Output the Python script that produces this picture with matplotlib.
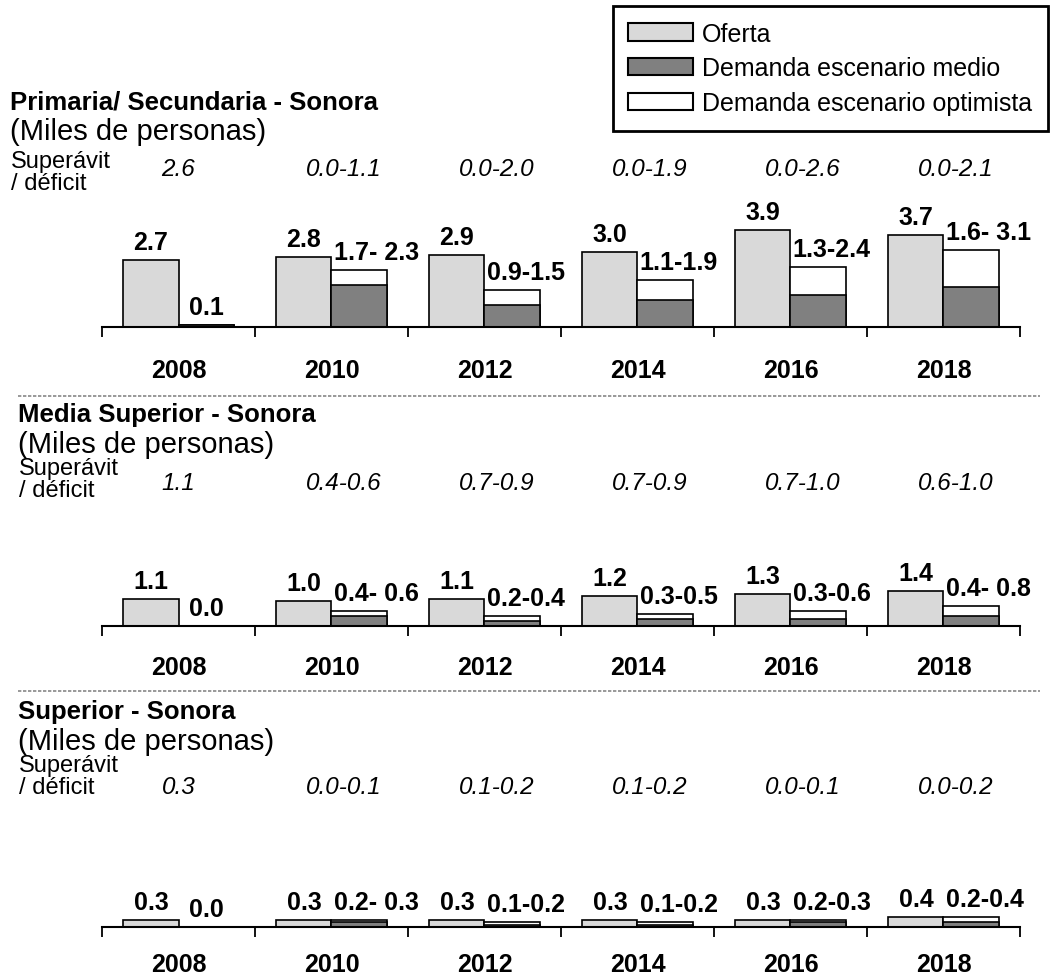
import matplotlib
matplotlib.use("Agg")
import matplotlib.pyplot as plt
from matplotlib.patches import Patch
from matplotlib.lines import Line2D
import numpy as np

plt.rcParams['font.family'] = ['Liberation Sans', 'DejaVu Sans']

W, H = 1056, 979

years = ['2008', '2010', '2012', '2014', '2016', '2018']

# Primaria / Secundaria
prim_oferta = [2.7, 2.8, 2.9, 3.0, 3.9, 3.7]
prim_medio = [0.1, 1.7, 0.9, 1.1, 1.3, 1.6]
prim_optimista = [0.1, 2.3, 1.5, 1.9, 2.4, 3.1]
prim_dem_labels = ['0.1', '1.7- 2.3', '0.9-1.5', '1.1-1.9', '1.3-2.4', '1.6- 3.1']
prim_balance = ['2.6', '0.0-1.1', '0.0-2.0', '0.0-1.9', '0.0-2.6', '0.0-2.1']

# Media superior
media_oferta = [1.1, 1.0, 1.1, 1.2, 1.3, 1.4]
media_medio = [0.0, 0.4, 0.2, 0.3, 0.3, 0.4]
media_optimista = [0.0, 0.6, 0.4, 0.5, 0.6, 0.8]
media_dem_labels = ['0.0', '0.4- 0.6', '0.2-0.4', '0.3-0.5', '0.3-0.6', '0.4- 0.8']
media_balance = ['1.1', '0.4-0.6', '0.7-0.9', '0.7-0.9', '0.7-1.0', '0.6-1.0']

# Superior
sup_oferta = [0.3, 0.3, 0.3, 0.3, 0.3, 0.4]
sup_medio = [0.0, 0.2, 0.1, 0.1, 0.2, 0.2]
sup_optimista = [0.0, 0.3, 0.2, 0.2, 0.3, 0.4]
sup_dem_labels = ['0.0', '0.2- 0.3', '0.1-0.2', '0.1-0.2', '0.2-0.3', '0.2-0.4']
sup_balance = ['0.3', '0.0-0.1', '0.1-0.2', '0.1-0.2', '0.0-0.1', '0.0-0.2']

c_oferta = '#d9d9d9'
c_medio = '#808080'
c_opt = 'white'

fig = plt.figure(figsize=(W / 100, H / 100), dpi=100)


def fx(px):
    return px / W


def fy(py):
    return 1 - py / H


panels = [
    dict(title='Primaria/ Secundaria - Sonora', tx=10, ty=102, sy=173, by=170, base=328, top=120, pad=22,
         oferta=prim_oferta, medio=prim_medio, opt=prim_optimista,
         dem=prim_dem_labels, bal=prim_balance),
    dict(title='Media Superior - Sonora', tx=18, ty=415, sy=480, by=484, base=627, top=60, pad=21,
         oferta=media_oferta, medio=media_medio, opt=media_optimista,
         dem=media_dem_labels, bal=media_balance),
    dict(title='Superior - Sonora', tx=18, ty=712, sy=777, by=787, base=928, top=30, pad=18,
         oferta=sup_oferta, medio=sup_medio, opt=sup_optimista,
         dem=sup_dem_labels, bal=sup_balance),
]

px_per_unit = 25.0
bw = 0.36
centers = np.arange(6) + 0.5

for p in panels:
    ax = fig.add_axes([fx(102), fy(p['base']), fx(918), p['top'] / H])
    ax.set_xlim(0, 6)
    ax.set_ylim(0, p['top'] / px_per_unit)
    for s in ['top', 'right', 'left']:
        ax.spines[s].set_visible(False)
    ax.spines['bottom'].set_linewidth(1.5)
    ax.set_yticks([])
    ax.set_xticks(np.arange(7))
    ax.set_xticklabels([])
    ax.tick_params(axis='x', which='major', direction='out', length=7, width=1.3)
    ax.set_xticks(centers, years, minor=True)
    ax.tick_params(axis='x', which='minor', length=0, pad=p['pad'], labelsize=18)
    for lab in ax.get_xticklabels(minor=True):
        lab.set_fontweight('bold')

    ax.bar(centers, p['oferta'], width=-bw, align='edge', color=c_oferta,
           edgecolor='black', linewidth=1.2)
    ax.bar(centers, p['opt'], width=bw, align='edge', color=c_opt,
           edgecolor='black', linewidth=1.2)
    ax.bar(centers, p['medio'], width=bw, align='edge', color=c_medio,
           edgecolor='black', linewidth=1.2)

    for i, c in enumerate(centers):
        ax.annotate(f"{p['oferta'][i]:.1f}", (c - bw / 2, p['oferta'][i]), xytext=(0, 4),
                    textcoords='offset points', ha='center', va='bottom',
                    fontsize=18, fontweight='bold', annotation_clip=False)
        if i == 0:
            ax.annotate(p['dem'][i], (c + bw / 2, p['opt'][i]), xytext=(0, 4),
                        textcoords='offset points', ha='center', va='bottom',
                        fontsize=18, fontweight='bold', annotation_clip=False)
        else:
            ax.annotate(p['dem'][i], (c, p['opt'][i]), xytext=(1.5, 4),
                        textcoords='offset points', ha='left', va='bottom',
                        fontsize=18, fontweight='bold', annotation_clip=False)

    fig.text(fx(p['tx']), fy(p['ty']), p['title'], fontsize=18.5, fontweight='bold',
             ha='left', va='center')
    fig.text(fx(p['tx']), fy(p['ty'] + 30), '(Miles de personas)', fontsize=21,
             ha='left', va='center')
    fig.text(fx(p['tx'] + 1), fy(p['sy']), 'Superávit\n/ déficit', fontsize=17,
             ha='left', va='center', linespacing=0.95)
    for i, c in enumerate(centers):
        off = 0 if i == 0 else 12
        fig.text(fx(102 + c * 153 + off), fy(p['by']), p['bal'][i], fontsize=17.5,
                 style='italic', ha='center', va='center')

# dashed separators
for y in [397, 692]:
    fig.add_artist(Line2D([fx(18), fx(1040)], [fy(y), fy(y)], color='#888888',
                          linewidth=1.2, linestyle=(0, (2, 1))))

handles = [Patch(facecolor=c_oferta, edgecolor='black', linewidth=1.5),
           Patch(facecolor=c_medio, edgecolor='black', linewidth=1.5),
           Patch(facecolor=c_opt, edgecolor='black', linewidth=1.5)]
leg = fig.legend(handles, ['Oferta', 'Demanda escenario medio', 'Demanda escenario optimista'],
                 loc='upper right', bbox_to_anchor=(fx(1048), fy(7)), borderaxespad=0,
                 fontsize=18, fancybox=False, framealpha=1, edgecolor='black',
                 handlelength=2.6, handleheight=0.68, labelspacing=0.43, handletextpad=0.35,
                 borderpad=0.63)
leg.get_frame().set_linewidth(2)

fig.savefig('out.png', dpi=100)
